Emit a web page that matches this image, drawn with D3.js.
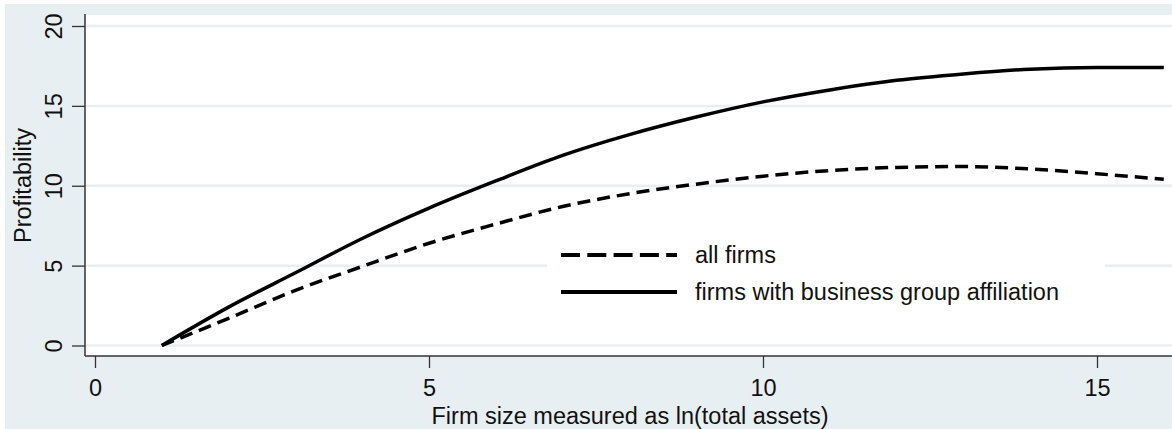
<!DOCTYPE html>
<html>
<head>
<meta charset="utf-8">
<script src="https://cdn.jsdelivr.net/npm/d3@7"></script>
<style>
  html, body { margin: 0; padding: 0; background: #ffffff; }
  svg { display: block; }
  text { font-family: "Liberation Sans", Arial, sans-serif; fill: #111; }
</style>
</head>
<body>
<svg id="chart" width="1172" height="429"></svg>
<script>
// Firm size (ln total assets) at which profitability is evaluated
const firmSize = [1, 2, 3, 4, 5, 6, 7, 8, 9, 10, 11, 12, 13, 14, 15, 16];
// Predicted profitability, all firms
const allFirms = [0, 1.7, 3.45, 4.95, 6.4, 7.6, 8.7, 9.5, 10.1, 10.6, 10.95, 11.15, 11.2, 11.05, 10.75, 10.4];
// Predicted profitability, firms with business group affiliation
const groupFirms = [0, 2.4, 4.55, 6.7, 8.6, 10.3, 11.9, 13.2, 14.3, 15.25, 16.0, 16.6, 17.0, 17.3, 17.4, 17.4];

const xTicks = [0, 5, 10, 15];
const yTicks = [0, 5, 10, 15, 20];
const legendLabels = ["all firms", "firms with business group affiliation"];
const xTitle = "Firm size measured as ln(total assets)";
const yTitle = "Profitability";

const W = 1172, H = 429;
const plot = { left: 85, top: 15, right: 1172, bottom: 356 };
const bg = "#e8eff2";
const fs = 23.5;

const svg = d3.select("#chart");

const x = d3.scaleLinear().domain([0, 15]).range([95, 1097]);
const y = d3.scaleLinear().domain([0, 20]).range([345.5, 26]);

// outer graph region
svg.append("rect").attr("x", 5).attr("y", 4).attr("width", W - 5).attr("height", H - 4).attr("fill", bg);
// plot region
svg.append("rect").attr("x", plot.left).attr("y", plot.top)
  .attr("width", plot.right - plot.left).attr("height", plot.bottom - plot.top).attr("fill", "#fff");

svg.append("clipPath").attr("id", "clip").append("rect")
  .attr("x", plot.left).attr("y", plot.top)
  .attr("width", plot.right - plot.left).attr("height", plot.bottom - plot.top);

// horizontal grid lines
svg.append("g").selectAll("line").data(yTicks).join("line")
  .attr("x1", plot.left + 1).attr("x2", plot.right)
  .attr("y1", d => y(d)).attr("y2", d => y(d))
  .attr("stroke", bg).attr("stroke-width", 2.5);

// y axis
const yAxis = svg.append("g").attr("transform", `translate(${plot.left},0)`)
  .call(d3.axisLeft(y).tickValues(yTicks).tickSize(13).tickPadding(0));
yAxis.select(".domain").remove();
yAxis.selectAll(".tick line").attr("stroke", "#333").attr("stroke-width", 1.3);
yAxis.selectAll(".tick text")
  .attr("x", 0).attr("y", -23).attr("dy", 0)
  .attr("transform", "rotate(-90)")
  .attr("text-anchor", "middle")
  .attr("font-size", fs);
svg.append("line").attr("x1", plot.left).attr("x2", plot.left)
  .attr("y1", plot.top - 1).attr("y2", plot.bottom).attr("stroke", "#333").attr("stroke-width", 1.5);

// x axis
const xAxis = svg.append("g").attr("transform", `translate(0,${plot.bottom})`)
  .call(d3.axisBottom(x).tickValues(xTicks).tickSize(12));
xAxis.select(".domain").remove();
xAxis.selectAll(".tick line").attr("stroke", "#333").attr("stroke-width", 1.3);
xAxis.selectAll(".tick text").attr("y", 40).attr("dy", 0).attr("font-size", fs);
svg.append("line").attr("x1", plot.left).attr("x2", plot.right)
  .attr("y1", plot.bottom).attr("y2", plot.bottom).attr("stroke", "#333").attr("stroke-width", 1.5);

// axis titles
svg.append("text").attr("x", 630).attr("y", 424).attr("text-anchor", "middle")
  .attr("font-size", fs).text(xTitle);
svg.append("text").attr("transform", `translate(31,${(plot.top + plot.bottom) / 2}) rotate(-90)`)
  .attr("text-anchor", "middle").attr("font-size", fs).text(yTitle);

// legend
const legend = svg.append("g");
legend.append("rect").attr("x", 547).attr("y", 236).attr("width", 558).attr("height", 78).attr("fill", "#fff");
const legendRows = [
  { label: legendLabels[0], dash: "19,7.3", y: 255 },
  { label: legendLabels[1], dash: null, y: 292 }
];
legendRows.forEach(r => {
  legend.append("line").attr("x1", 561).attr("x2", 677).attr("y1", r.y).attr("y2", r.y)
    .attr("stroke", "#000").attr("stroke-width", 4)
    .attr("stroke-dasharray", r.dash);
  legend.append("text").attr("x", 695).attr("y", r.y + 8).attr("font-size", fs).text(r.label);
});

// curves
const line = d3.line().x(d => x(d[0])).y(d => y(d[1])).curve(d3.curveMonotoneX);
const curves = svg.append("g").attr("clip-path", "url(#clip)");
curves.append("path").datum(firmSize.map((s, i) => [s, groupFirms[i]]))
  .attr("d", line).attr("fill", "none").attr("stroke", "#000").attr("stroke-width", 3.5);
curves.append("path").datum(firmSize.map((s, i) => [s, allFirms[i]]))
  .attr("d", line).attr("fill", "none").attr("stroke", "#000").attr("stroke-width", 3.5)
  .attr("stroke-dasharray", "13,7");
</script>
</body>
</html>
